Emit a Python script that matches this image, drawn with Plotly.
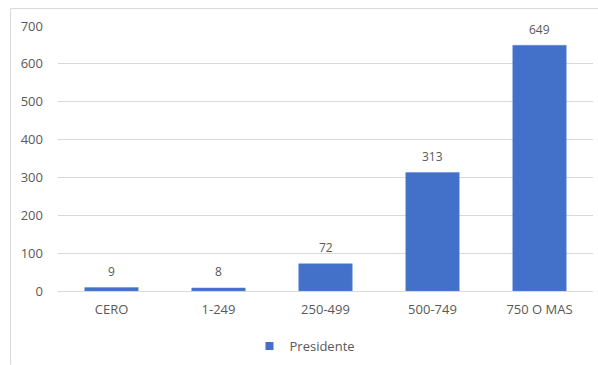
import plotly.graph_objects as go

categories = ["CERO", "1-249", "250-499", "500-749", "750 O MAS"]
values = [9, 8, 72, 313, 649]
series_name = "Presidente"
y_ticks = [0, 100, 200, 300, 400, 500, 600, 700]

W, H = 598, 365
L, R, T, B = 58, 5, 26, 73
pw, ph = W - L - R, H - T - B

def px_x(x):
    return (x - L) / pw

def px_y(y):
    return (H - B - y) / ph

font_family = "Open Sans, Liberation Sans, sans-serif"
txt = "#595959"
grid = "#D9D9D9"
bar_color = "#4371C9"

fig = go.Figure()
fig.add_trace(go.Bar(
    x=categories, y=values, name=series_name,
    marker=dict(color=bar_color, line=dict(color="#5B86D3", width=0.5)),
    width=0.5, showlegend=False,
))
fig.add_trace(go.Scatter(
    x=[None], y=[None], mode="markers", name=series_name,
    marker=dict(symbol="square", size=8, color=bar_color),
))

annotations = [
    dict(x=c, y=v, xref="x", yref="y", text=str(v), showarrow=False,
         yanchor="middle", yshift=16, font=dict(size=12, color=txt, family=font_family))
    for c, v in zip(categories, values)
]

fig.update_layout(
    width=W, height=H,
    margin=dict(l=L, r=R, t=T, b=B),
    paper_bgcolor="white", plot_bgcolor="white",
    font=dict(family=font_family, size=13, color=txt),
    showlegend=True,
    legend=dict(orientation="h", x=px_x(305), xanchor="center",
                y=px_y(346), yanchor="middle", font=dict(size=13, color=txt),
                bgcolor="rgba(0,0,0,0)", itemwidth=30),
    bargap=0.5,
    xaxis=dict(showgrid=False, showline=False, ticks="", ticklabelstandoff=9,
               tickfont=dict(size=13, color=txt)),
    yaxis=dict(range=[0, 700], tickvals=y_ticks, showgrid=True, gridcolor=grid, gridwidth=1,
               zeroline=True, zerolinecolor=grid, zerolinewidth=1, showline=False, ticks="",
               ticklabelstandoff=14, tickfont=dict(size=13, color=txt)),
    annotations=annotations,
    shapes=[
        dict(type="line", xref="paper", yref="paper", x0=px_x(10.5), x1=px_x(10.5),
             y0=px_y(8.5), y1=px_y(366), line=dict(color=grid, width=1)),
        dict(type="line", xref="paper", yref="paper", x0=px_x(10.5), x1=px_x(599),
             y0=px_y(8.5), y1=px_y(8.5), line=dict(color=grid, width=1)),
    ],
)

fig.write_html("out.html")
